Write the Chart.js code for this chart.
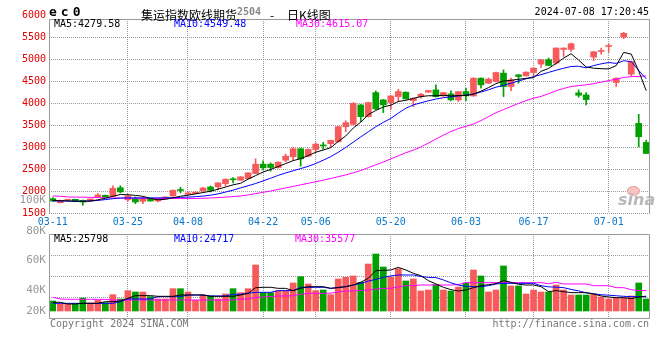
<!DOCTYPE html>
<html>
<head>
<meta charset="utf-8">
<script src="https://cdn.jsdelivr.net/npm/chart.js@4.4.1/dist/chart.umd.min.js"></script>
<style>
  body { margin: 0; background: #fff; }
  #wrap { position: relative; width: 660px; height: 360px; overflow: hidden; font-family: "DejaVu Sans Mono", monospace; font-size: 10px; }
  #wrap canvas { position: absolute; left: 0; }
  .t { position: absolute; white-space: nowrap; line-height: 12px; }
  .r { text-align: right; }
</style>
</head>
<body>
<div id="wrap">
  <canvas id="kChart" width="660" height="232" style="top:0;width:660px;height:232px"></canvas>
  <canvas id="volChart" width="660" height="88" style="top:232px;width:660px;height:88px"></canvas>

  <span class="t" style="left:49px;top:5px;font:bold 13px 'DejaVu Sans Mono';letter-spacing:4px;line-height:14px">ec0</span>
  <span class="t" style="left:141px;top:6px;font:12px 'Noto Sans CJK SC'">集运指数欧线期货</span>
  <span class="t" style="left:237px;top:6px;font:bold 10px 'DejaVu Sans Mono';color:#888">2504</span>
  <span class="t" style="left:270px;top:6px;font:12px 'Noto Sans CJK SC'">-</span>
  <span class="t" style="left:287px;top:6px;font:12px 'Noto Sans CJK SC'">日K线图</span>
  <span class="t" style="right:11px;top:6px">2024-07-08 17:20:45</span>

  <span class="t" style="left:54px;top:18px;color:#000">MA5:4279.58</span>
  <span class="t" style="left:174px;top:18px;color:#0000ff">MA10:4549.48</span>
  <span class="t" style="left:296px;top:18px;color:#ff00ff">MA30:4615.07</span>

  <span class="t" style="left:54px;top:233px;color:#000">MA5:25798</span>
  <span class="t" style="left:174px;top:233px;color:#0000ff">MA10:24717</span>
  <span class="t" style="left:295px;top:233px;color:#ff00ff">MA30:35577</span>

  <div id="volLabels"></div>

  <span class="t" style="left:50px;top:318px;color:#777">Copyright 2024 SINA.COM</span>
  <span class="t" style="right:11px;top:318px;color:#777">http://finance.sina.com.cn</span>

  <div style="position:absolute;left:627px;top:186px;width:11px;height:8px;background:#f6c2c2;border:1px solid #eea0a0;border-radius:50%"></div>
  <span class="t" style="left:618px;top:192px;font:italic bold 16px 'DejaVu Sans';color:#b8b8b8;line-height:16px">sina</span>
</div>
<script>
// trading days shown on the chart
const dates = ['03-11','03-12','03-13','03-14','03-15','03-18','03-19','03-20','03-21','03-22',
    '03-25','03-26','03-27','03-28','03-29','04-01','04-02','04-03','04-08','04-09',
    '04-10','04-11','04-12','04-15','04-16','04-17','04-18','04-19','04-22','04-23',
    '04-24','04-25','04-26','04-29','04-30','05-06','05-07','05-08','05-09','05-10',
    '05-13','05-14','05-15','05-16','05-17','05-20','05-21','05-22','05-23','05-24',
    '05-27','05-28','05-29','05-30','05-31','06-03','06-04','06-05','06-06','06-07',
    '06-11','06-12','06-13','06-14','06-17','06-18','06-19','06-20','06-21','06-24',
    '06-25','06-26','06-27','06-28','07-01','07-02','07-03','07-04','07-05','07-08'];

const openP = [1826,1735,1790,1811,1788,1773,1864,1902,1879,2075,
    1800,1826,1765,1826,1773,1826,1887,2020,1925,1940,
    2001,2092,2092,2168,2262,2245,2283,2397,2610,2610,
    2534,2701,2777,2960,2792,2944,3032,3074,3119,3461,
    3515,3956,3690,4237,4070,4009,4146,4245,4055,4146,
    4245,4298,4160,4207,4070,4260,4161,4564,4450,4488,
    4678,4374,4640,4617,4693,4884,4982,4906,5218,5218,
    4230,4184,5043,5170,5285,4465,5499,4655,3537,3104];
const highP = [1850,1795,1805,1815,1795,1825,1940,1910,2120,2120,
    1925,1864,1864,1835,1841,1870,2025,2085,1986,1990,
    2080,2115,2190,2275,2305,2330,2420,2731,2686,2640,
    2665,2838,2990,2975,2960,3096,3104,3157,3470,3598,
    4009,3965,4020,4275,4080,4170,4313,4255,4115,4222,
    4290,4412,4245,4275,4265,4336,4575,4570,4570,4700,
    4754,4564,4645,4710,4800,4990,5020,5255,5255,5363,
    4298,4237,5170,5249,5347,4570,5606,4950,3743,3157];
const lowP = [1760,1727,1780,1760,1674,1765,1860,1855,1870,1956,
    1770,1712,1712,1765,1750,1820,1880,1956,1918,1935,
    1995,1978,2032,2115,2184,2240,2275,2390,2473,2450,
    2520,2663,2701,2564,2780,2868,2944,2990,3110,3347,
    3500,3575,3680,3850,3781,3857,4032,4085,3918,4108,
    4240,4140,4150,4047,4032,4055,4150,4336,4440,4480,
    4146,4283,4450,4610,4602,4807,4845,4884,5058,5172,
    4131,3956,4967,5112,5150,4374,5461,4617,3005,2850];
const closeP = [1773,1788,1793,1765,1750,1819,1910,1864,2060,1980,
    1890,1750,1826,1773,1811,1864,2016,2012,1956,1971,
    2070,2016,2184,2267,2255,2321,2412,2610,2526,2534,
    2655,2792,2960,2731,2944,3066,3024,3150,3461,3553,
    3994,3690,4009,3865,3956,4161,4260,4093,4108,4199,
    4283,4146,4237,4070,4260,4161,4564,4412,4541,4693,
    4374,4526,4602,4701,4792,4982,4853,5249,5249,5347,
    4176,4077,5165,5180,5295,4564,5583,4944,3233,2853];

const ma5 = [1785,1780,1775,1768,1765,1770,1800,1835,1880,1920,
    1915,1900,1880,1830,1800,1810,1845,1880,1905,1935,
    1965,1995,2040,2090,2140,2175,2270,2350,2430,2490,
    2555,2623,2690,2735,2805,2880,2930,2985,3125,3250,
    3430,3565,3735,3830,3910,3950,4035,4060,4105,4145,
    4165,4163,4175,4160,4170,4170,4200,4270,4350,4440,
    4500,4515,4540,4560,4575,4720,4786,4900,5020,5120,
    4975,4820,4790,4780,4775,4850,5150,5112,4724,4280];
const ma10 = [1775,1772,1770,1766,1768,1775,1785,1805,1825,1840,
    1843,1843,1843,1843,1843,1845,1848,1855,1862,1870,
    1885,1905,1935,1975,2020,2070,2120,2170,2230,2290,
    2355,2410,2460,2510,2560,2625,2700,2780,2880,2990,
    3110,3230,3345,3460,3560,3650,3770,3880,3956,4005,
    4050,4090,4120,4140,4160,4180,4205,4250,4300,4360,
    4400,4450,4500,4550,4600,4645,4695,4745,4790,4830,
    4835,4800,4850,4890,4920,4900,4960,4940,4740,4549];
const ma30 = [1885,1880,1865,1862,1860,1855,1850,1845,1842,1840,
    1838,1836,1835,1834,1833,1832,1830,1828,1828,1830,
    1835,1842,1850,1860,1872,1887,1910,1940,1970,2000,
    2035,2070,2105,2140,2175,2210,2246,2285,2325,2365,
    2415,2465,2530,2595,2660,2730,2800,2870,2929,3000,
    3090,3180,3270,3350,3420,3470,3520,3600,3690,3780,
    3850,3920,3990,4055,4110,4150,4210,4280,4330,4375,
    4395,4412,4440,4475,4510,4541,4580,4600,4605,4615];

// volume in thousands of lots
const volume = [17.4,12.2,12.2,12.2,22.6,13.9,18.6,14.5,28.4,20.9,
    35.4,33,33,25,20.9,20.9,38.8,38.8,33,18.6,
    27.8,26.1,20.9,29.6,38.8,31.9,38.8,80,31.9,31.9,
    35.4,35.4,48.7,59.7,47,35.4,36.5,28.4,55.7,58.6,
    60.9,49.9,81.7,99.1,76.5,58.6,73.6,52.2,55.7,34.8,
    36.5,45.8,36.5,34.8,41.7,48.7,71.3,60.9,33,36.5,
    78.3,43.5,43.5,29.6,36.5,33,33,45.2,36.5,27.8,
    27.8,27.8,29.6,24.3,20.9,22.6,22.6,26.1,48.7,20.9];
const volMa5 = [15.1,15.1,12.2,12.2,13.3,13.3,13.3,16.2,16.2,17.4,
    22,26.7,26.7,26.7,25.5,25.5,25.5,27.8,27.8,27.8,
    27.8,25.5,25.5,25.5,25.5,27.8,30.7,40.6,41.2,41.2,
    39.4,39.4,35.4,39.4,42.3,42.3,42.3,39.4,40.6,42.3,
    45.2,50,56.8,70.1,70.7,71.3,75.9,71.3,65.5,61.4,
    52.8,47,41.2,37.1,34.8,36.5,40.6,44,45.8,47.5,
    52.8,50,46.4,45.2,45.2,42.3,33.6,35.4,33.6,31.9,
    31.9,31.9,29.6,26.1,24.3,23.2,23.2,21.5,24.3,25.8];
const volMa10 = [13.3,13.3,13.3,13.3,13.3,13.3,13.3,13.3,13.3,16.2,
    20.9,20.9,20.9,20.9,24.9,24.9,24.9,24.9,27.8,27.8,
    27.8,26.1,26.1,26.1,29,29,31,32.4,32.4,32.4,
    35.4,35.4,35.4,41.2,41.2,41.2,41.2,39.4,41,42.3,
    45,48.1,52,55,58.5,61,62.6,62.6,62.6,60,
    58.5,58,54,49,45,43,42.3,42.3,44,47,
    48.1,48.1,48.1,48.1,48.1,44,42,41.5,40.6,37.5,
    35,31.5,30,28.2,27.5,26.5,25.5,25,24.9,24.7];
const volMa30 = [23.8,21,20.3,20.3,20.3,20.3,20.3,20.3,19.1,19.1,
    19.1,19.1,19.1,19.1,19.1,19.1,19.1,19.1,19.1,19.1,
    19.1,19.1,19.1,19.1,19.1,20.9,20.9,23.5,24.3,25,
    26.1,26.1,26.7,29,30.7,30.7,30.7,31,33,34.8,
    34.8,35.5,36.5,38,39.4,39.4,42,44,44,45.2,
    45.2,45.2,45.2,45.2,46,49.3,49.3,49.3,49.3,49.3,
    49.3,49.3,49.3,49.3,49.3,49.3,47.5,49.9,47,47,
    47,47,44,44,44,40.6,40.6,37,35.5,35.6];

const priceTicks = [1500, 2000, 2500, 3000, 3500, 4000, 4500, 5000, 5500, 6000];
const dateTicks = ['03-11', '03-25', '04-08', '04-22', '05-06', '05-20', '06-03', '06-17', '07-01'];
const volTickLabels = ['100K', '80K', '60K', '40K', '20K'];

const UP = '#f65a5a';
const DOWN = '#00a000';
const GRID = '#9a9a9a';
const FONT = { family: 'DejaVu Sans Mono', size: 10 };

const candleColor = closeP.map((c, i) => (c >= openP[i] ? UP : DOWN));
const dateTickIdx = dateTicks.map((d) => dates.indexOf(d));

// panel frame, optionally starting a few px below the top of the plot area
const framePlugin = {
    id: 'frame',
    afterDraw(chart, args, opts) {
        const { ctx, chartArea: a } = chart;
        const inset = opts.topInset || 0;
        const left = Math.round(a.left) + 0.5;
        const right = Math.round(a.right) - 0.5;
        const top = Math.round(a.top + inset) + 0.5;
        const bottom = Math.round(a.bottom) - 0.5;
        ctx.save();
        if (inset) ctx.clearRect(a.left, a.top - 2, a.right - a.left, inset + 2);
        ctx.strokeStyle = '#999';
        ctx.lineWidth = 1;
        ctx.beginPath();
        ctx.moveTo(left, bottom + 1);
        ctx.lineTo(left, top);
        ctx.lineTo(right, top);
        ctx.lineTo(right, bottom + 1);
        if (opts.closed) ctx.lineTo(left, bottom + 1);
        ctx.stroke();
        ctx.restore();
    }
};

function lineSet(label, data, color) {
    return {
        type: 'line', label, data,
        borderColor: color, borderWidth: 1,
        pointRadius: 0, tension: 0, order: 0
    };
}

function hideAt(value) {
    return (ctx) => (ctx.tick && ctx.tick.value === value ? 'rgba(0,0,0,0)' : GRID);
}

function renderKChart() {
    new Chart(document.getElementById('kChart'), {
        type: 'bar',
        data: {
            labels: dates,
            datasets: [
                lineSet('MA5', ma5, '#000000'),
                lineSet('MA10', ma10, '#0000ff'),
                lineSet('MA30', ma30, '#ff00ff'),
                {
                    label: 'body',
                    data: openP.map((o, i) => [o, closeP[i]]),
                    backgroundColor: candleColor,
                    barThickness: 6, minBarLength: 1,
                    grouped: false, order: 1
                },
                {
                    label: 'wick',
                    data: lowP.map((l, i) => [l, highP[i]]),
                    backgroundColor: candleColor,
                    barThickness: 1,
                    grouped: false, order: 2
                }
            ]
        },
        options: {
            responsive: false,
            animation: false,
            events: [],
            layout: { padding: { top: 15, right: 10, left: 0, bottom: 0 } },
            plugins: {
                legend: { display: false },
                tooltip: { enabled: false },
                frame: { topInset: 4 }
            },
            scales: {
                x: {
                    offset: true,
                    grid: { offset: false, drawTicks: false, color: hideAt(0) },
                    border: { display: false, dash: [1, 1] },
                    ticks: {
                        autoSkip: false, maxRotation: 0, padding: 3,
                        color: '#0a78c8', font: FONT,
                        callback: (v) => dates[v]
                    },
                    afterBuildTicks: (s) => { s.ticks = dateTickIdx.map((v) => ({ value: v })); },
                    afterFit: (s) => { s.height = 19; }
                },
                y: {
                    min: 1500, max: 6000,
                    grid: { drawTicks: false, color: hideAt(6000) },
                    border: { display: false, dash: [1, 1] },
                    ticks: { color: '#e00000', font: FONT, padding: 3, callback: (v) => String(v) },
                    afterBuildTicks: (s) => { s.ticks = priceTicks.map((v) => ({ value: v })); },
                    afterFit: (s) => { s.width = 49; }
                }
            }
        },
        plugins: [framePlugin]
    });
}

function renderVolChart() {
    new Chart(document.getElementById('volChart'), {
        type: 'bar',
        data: {
            labels: dates,
            datasets: [
                lineSet('MA5', volMa5, '#000000'),
                lineSet('MA10', volMa10, '#0000ff'),
                lineSet('MA30', volMa30, '#ff00ff'),
                {
                    label: 'volume',
                    data: volume,
                    backgroundColor: candleColor,
                    barThickness: 6,
                    order: 1
                }
            ]
        },
        options: {
            responsive: false,
            animation: false,
            events: [],
            layout: { padding: { top: 2, right: 10, left: 0, bottom: 2 } },
            plugins: {
                legend: { display: false },
                tooltip: { enabled: false },
                frame: { closed: true }
            },
            scales: {
                x: {
                    offset: true,
                    grid: { offset: false, drawTicks: false, color: hideAt(0) },
                    border: { display: false, dash: [1, 1] },
                    ticks: { display: false },
                    afterBuildTicks: (s) => { s.ticks = dateTickIdx.map((v) => ({ value: v })); },
                    afterFit: (s) => { s.height = 0; }
                },
                y: {
                    min: -12.2, max: 133.9,
                    grid: { drawTicks: false, color: GRID },
                    border: { display: false, dash: [1, 1] },
                    ticks: { display: false },
                    // three dotted lines splitting the panel in quarters
                    afterBuildTicks: (s) => {
                        const span = s.max - s.min;
                        s.ticks = [1, 2, 3].map((k) => ({ value: s.min + span * k / 4 }));
                    },
                    afterFit: (s) => { s.width = 49; }
                }
            }
        },
        plugins: [framePlugin]
    });
}

function renderVolLabels() {
    // label rows as placed in the original picture
    const rows = [194, 225, 254, 284, 305];
    const box = document.getElementById('volLabels');
    volTickLabels.forEach((txt, i) => {
        const span = document.createElement('span');
        span.className = 't r';
        span.style.cssText = 'right:614px;top:' + rows[i] + 'px;color:#999;font-size:11px';
        span.innerText = txt;
        box.appendChild(span);
    });
}

document.addEventListener('DOMContentLoaded', () => {
    renderKChart();
    renderVolChart();
    renderVolLabels();
});
</script>
</body>
</html>
